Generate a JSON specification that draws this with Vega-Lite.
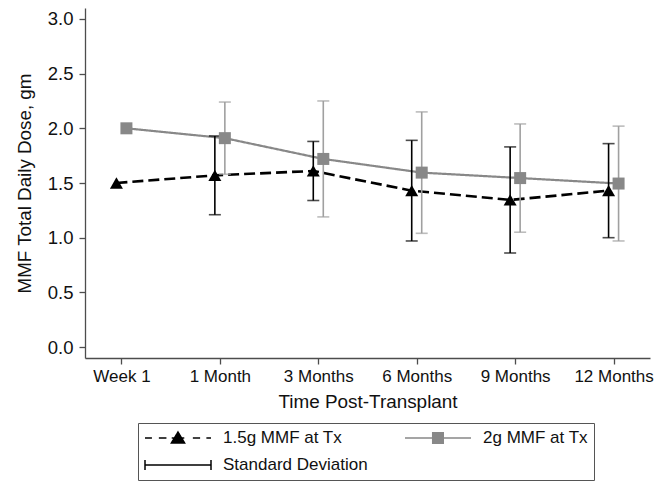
{
  "$schema": "https://vega.github.io/schema/vega-lite/v6.json",
  "width": 565,
  "height": 350,
  "autosize": {"type": "none"},
  "padding": {"left": 85, "top": 8, "right": 4, "bottom": 125},
  "background": "white",
  "config": {
    "font": "Liberation Sans",
    "view": {"stroke": null},
    "axis": {
      "domainColor": "#4d4d4d",
      "tickColor": "#4d4d4d",
      "domainWidth": 1.3,
      "tickWidth": 1.3,
      "tickSize": 6,
      "labelColor": "#111111",
      "titleColor": "#111111",
      "titleFontWeight": "normal",
      "grid": false
    }
  },
  "data": {
    "values": [
      {"time": "Week 1", "group": "1.5g MMF at Tx", "mean": 1.50, "lo": null, "hi": null},
      {"time": "1 Month", "group": "1.5g MMF at Tx", "mean": 1.57, "lo": 1.21, "hi": 1.93},
      {"time": "3 Months", "group": "1.5g MMF at Tx", "mean": 1.61, "lo": 1.34, "hi": 1.88},
      {"time": "6 Months", "group": "1.5g MMF at Tx", "mean": 1.43, "lo": 0.97, "hi": 1.89},
      {"time": "9 Months", "group": "1.5g MMF at Tx", "mean": 1.345, "lo": 0.86, "hi": 1.83},
      {"time": "12 Months", "group": "1.5g MMF at Tx", "mean": 1.43, "lo": 1.00, "hi": 1.86},
      {"time": "Week 1", "group": "2g MMF at Tx", "mean": 2.00, "lo": null, "hi": null},
      {"time": "1 Month", "group": "2g MMF at Tx", "mean": 1.91, "lo": 1.58, "hi": 2.24},
      {"time": "3 Months", "group": "2g MMF at Tx", "mean": 1.72, "lo": 1.19, "hi": 2.25},
      {"time": "6 Months", "group": "2g MMF at Tx", "mean": 1.595, "lo": 1.04, "hi": 2.15},
      {"time": "9 Months", "group": "2g MMF at Tx", "mean": 1.545, "lo": 1.05, "hi": 2.04},
      {"time": "12 Months", "group": "2g MMF at Tx", "mean": 1.495, "lo": 0.97, "hi": 2.02}
    ]
  },
  "encoding": {
    "x": {
      "field": "time",
      "type": "ordinal",
      "sort": ["Week 1", "1 Month", "3 Months", "6 Months", "9 Months", "12 Months"],
      "scale": {"type": "point", "padding": 0.37},
      "axis": {
        "title": "Time Post-Transplant",
        "labelAngle": 0,
        "labelFontSize": 17,
        "titleFontSize": 18.9,
        "labelPadding": 4,
        "titlePadding": 8
      }
    },
    "xOffset": {
      "field": "group",
      "type": "nominal",
      "scale": {"type": "point", "domain": ["1.5g MMF at Tx", "2g MMF at Tx"], "range": [-5, 5], "padding": 0}
    }
  },
  "layer": [
    {
      "mark": {"type": "line"},
      "encoding": {
        "y": {
          "field": "mean",
          "type": "quantitative",
          "title": "MMF Total Daily Dose, gm",
          "scale": {"domain": [-0.1, 3.1], "nice": false, "zero": false},
          "axis": {
            "values": [0, 0.5, 1, 1.5, 2, 2.5, 3],
            "format": ".1f",
            "labelFontSize": 18.5,
            "titleFontSize": 18.8,
            "labelPadding": 6,
            "titlePadding": 13
          }
        },
        "color": {
          "field": "group",
          "type": "nominal",
          "scale": {"domain": ["1.5g MMF at Tx", "2g MMF at Tx", "Standard Deviation"], "range": ["#000000", "#888888", "#000000"]},
          "legend": {
            "orient": "none",
            "legendX": 53,
            "legendY": 415,
            "title": null,
            "columns": 2,
            "direction": "horizontal",
            "symbolSize": 4356,
            "symbolStrokeWidth": 1.5,
            "clipHeight": 18,
            "rowPadding": 9,
            "columnPadding": 36,
            "labelOffset": 11,
            "labelFontSize": 17,
            "labelColor": "#111111",
            "labelLimit": 300,
            "padding": 6,
            "strokeColor": "#555555",
            "labelExpr": "datum.label == '2g MMF at Tx' ? datum.label + '  ' : datum.label",
            "encode": {
              "symbols": {
                "update": {
                  "shape": {"signal": "datum.value === '1.5g MMF at Tx' ? 'M-1,0H-0.79M-0.58,0H-0.35M-0.19,0H0.19M0.45,0H0.67M0.86,0H1M-0.2,0.15L0,-0.18L0.2,0.15Z' : datum.value === '2g MMF at Tx' ? 'M-1,0H1M-0.16,-0.16H0.16V0.16H-0.16Z' : 'M-1,-0.15V0.15M-1,0H1M1,-0.15V0.15'"},
                  "fill": {"signal": "datum.value === '2g MMF at Tx' ? '#888888' : '#000000'"},
                  "stroke": {"signal": "datum.value === '2g MMF at Tx' ? '#888888' : '#000000'"},
                  "strokeDash": {"value": [1, 0]},
                  "opacity": {"value": 1}
                }
              }
            }
          }
        },
        "strokeDash": {
          "field": "group",
          "type": "nominal",
          "scale": {"domain": ["1.5g MMF at Tx", "2g MMF at Tx"], "range": [[11, 5], [1, 0]]},
          "legend": null
        },
        "strokeWidth": {
          "field": "group",
          "type": "ordinal",
          "scale": {"domain": ["1.5g MMF at Tx", "2g MMF at Tx"], "range": [2.6, 2.2]},
          "legend": null
        }
      }
    },
    {
      "transform": [{"filter": "datum.lo != null"}],
      "mark": {"type": "rule", "strokeWidth": 1.6},
      "encoding": {
        "y": {"field": "lo", "type": "quantitative", "title": "MMF Total Daily Dose, gm"},
        "y2": {"field": "hi"},
        "stroke": {
          "field": "group",
          "type": "nominal",
          "scale": {"domain": ["1.5g MMF at Tx", "2g MMF at Tx"], "range": ["#000000", "#a0a0a0"]},
          "legend": null
        }
      }
    },
    {
      "transform": [{"filter": "datum.lo != null"}],
      "mark": {"type": "tick", "size": 12, "thickness": 1.6},
      "encoding": {
        "y": {"field": "lo", "type": "quantitative", "title": "MMF Total Daily Dose, gm"},
        "fill": {
          "field": "group",
          "type": "nominal",
          "scale": {"domain": ["1.5g MMF at Tx", "2g MMF at Tx"], "range": ["#000000", "#a0a0a0"]},
          "legend": null
        }
      }
    },
    {
      "transform": [{"filter": "datum.hi != null"}],
      "mark": {"type": "tick", "size": 12, "thickness": 1.6},
      "encoding": {
        "y": {"field": "hi", "type": "quantitative", "title": "MMF Total Daily Dose, gm"},
        "fill": {
          "field": "group",
          "type": "nominal",
          "scale": {"domain": ["1.5g MMF at Tx", "2g MMF at Tx"], "range": ["#000000", "#a0a0a0"]},
          "legend": null
        }
      }
    },
    {
      "mark": {"type": "point", "filled": true, "opacity": 1},
      "encoding": {
        "y": {"field": "mean", "type": "quantitative", "title": "MMF Total Daily Dose, gm"},
        "color": {
          "field": "group",
          "type": "nominal",
          "scale": {"domain": ["1.5g MMF at Tx", "2g MMF at Tx", "Standard Deviation"], "range": ["#000000", "#888888", "#000000"]}
        },
        "shape": {
          "field": "group",
          "type": "nominal",
          "scale": {"domain": ["1.5g MMF at Tx", "2g MMF at Tx"], "range": ["triangle-up", "square"]},
          "legend": null
        },
        "size": {
          "field": "group",
          "type": "ordinal",
          "scale": {"domain": ["1.5g MMF at Tx", "2g MMF at Tx"], "range": [169, 144]},
          "legend": null
        }
      }
    }
  ]
}
